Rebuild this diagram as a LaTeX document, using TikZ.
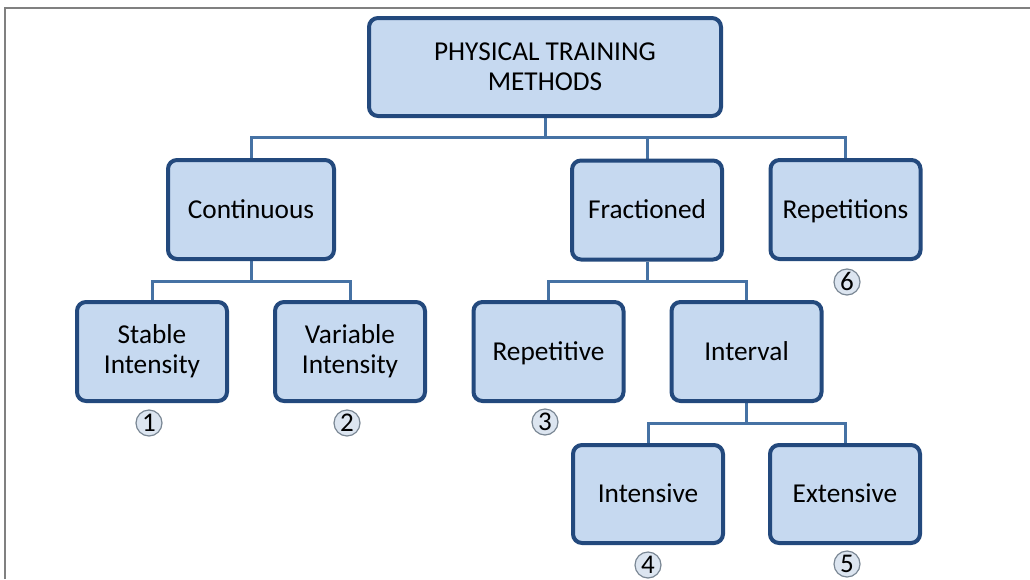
\documentclass[tikz,border=0pt]{standalone}
\usepackage{fontspec}
\setmainfont{Carlito}
\usetikzlibrary{backgrounds}
\definecolor{boxfill}{HTML}{C6D9F0}
\definecolor{boxline}{HTML}{23497D}
\definecolor{connline}{HTML}{4672A4}
\definecolor{numfill}{HTML}{DCE5F0}
\definecolor{numline}{HTML}{7A8794}
\tikzset{
  tbox/.style={draw=boxline, fill=boxfill, line width=4pt, rounded corners=9pt,
    inner sep=0pt, align=center, font=\fontsize{27.3}{30}\selectfont,
    minimum width=150pt, minimum height=99pt},
  oneline/.style={text height=21.5pt, text depth=4.5pt},
  conn/.style={draw=connline, line width=3pt},
  num/.style={circle, draw=numline, fill=numfill, line width=1.2pt, inner sep=0pt,
    minimum size=26pt, text height=17.5pt, text depth=0pt, font=\fontsize{27}{27}\selectfont},
  frame/.style={draw=gray, line width=1.5pt}
}
\begin{document}
\begin{tikzpicture}[x=1pt,y=-1pt]
\useasboundingbox (0,0) rectangle (1030,579);
\draw[frame] (5,579) -- (5,8) -- (1030,8);

\node[tbox, minimum width=352pt, minimum height=98pt] (top) at (545,67) {PHYSICAL TRAINING\\METHODS};
\node[tbox, oneline, minimum width=166pt] (cont) at (251,209.5) {Continuous};
\node[tbox, oneline] (frac) at (647,210) {Fractioned};
\node[tbox, oneline] (reps) at (845.5,209.5) {Repetitions};
\node[tbox] (stab) at (152,351.5) {Stable\\Intensity};
\node[tbox] (vari) at (350,351.5) {Variable\\Intensity};
\node[tbox, oneline] (rept) at (548.5,351.5) {Repetitive};
\node[tbox, oneline] (intv) at (746.5,351.5) {Interval};
\node[tbox, oneline, minimum height=98pt] (ints) at (648,494) {Intensive};
\node[tbox, oneline, minimum height=98pt] (exts) at (845,494) {Extensive};

\coordinate (j1) at (545,137);
\coordinate (j2) at (251,281);
\coordinate (j3) at (647,281);
\coordinate (j4) at (746.5,423);

\begin{scope}[on background layer]
\draw[conn] (top.south) -- (j1);
\draw[conn] (cont.north) |- (j1) -| (reps.north);
\draw[conn] (frac.north) -- (frac.north |- j1);
\draw[conn] (cont.south) -- (j2);
\draw[conn] (stab.north) |- (j2) -| (vari.north);
\draw[conn] (frac.south) -- (j3);
\draw[conn] (rept.north) |- (j3) -| (intv.north);
\draw[conn] (intv.south) -- (j4);
\draw[conn] (ints.north) |- (j4) -| (exts.north);
\end{scope}

\node[num] (n1) at (149,423) {1};
\node[num] (n2) at (347,423) {2};
\node[num] (n3) at (545,422) {3};
\node[num] (n6) at (847,282) {6};
\node[num] (n4) at (648,565) {4};
\node[num] (n5) at (847,564) {5};
\end{tikzpicture}
\end{document}
